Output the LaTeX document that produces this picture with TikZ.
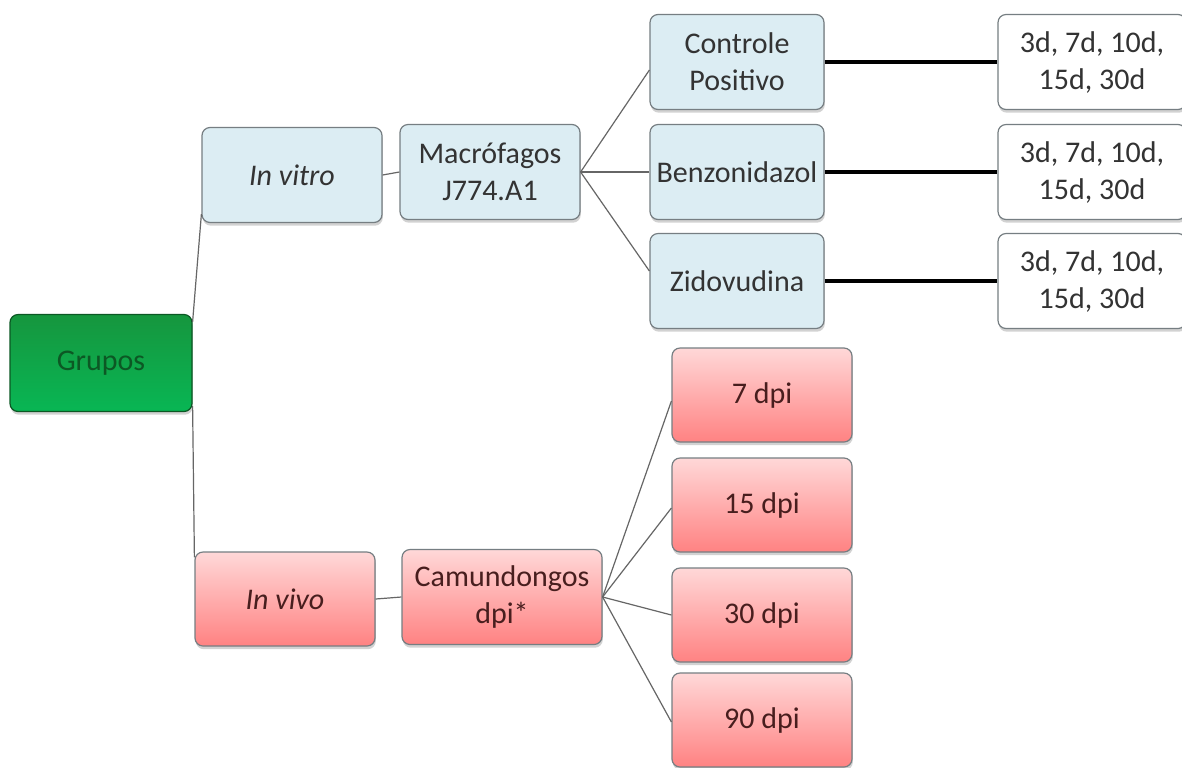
\documentclass[tikz,border=0pt]{standalone}
\usepackage{fontspec}
\setmainfont{Carlito}
\usetikzlibrary{shadows}

\definecolor{boxblue}{RGB}{220,237,243}
\definecolor{boxline}{RGB}{118,126,130}
\definecolor{greentop}{RGB}{22,150,62}
\definecolor{greenbot}{RGB}{8,182,84}
\definecolor{greentext}{RGB}{12,88,36}
\definecolor{redtop}{RGB}{255,216,216}
\definecolor{redbot}{RGB}{255,130,130}
\definecolor{redtext}{RGB}{72,30,30}

\newcommand{\boxh}{47.5pt}
\newcommand{\colw}{90pt}

\tikzset{
  box/.style={rounded corners=4pt, draw=boxline, line width=0.6pt, align=center,
    inner sep=0pt, minimum height=\boxh, minimum width=\colw,
    font=\fontsize{15}{18.5}\selectfont,
    drop shadow={shadow xshift=0.4pt, shadow yshift=-1.6pt, opacity=0.35}},
  bluebox/.style={box, fill=boxblue, text=black!80},
  redbox/.style={box, top color=redtop, bottom color=redbot, text=redtext},
  whitebox/.style={box, fill=white, text=black!80},
  greenbox/.style={box, top color=greentop, bottom color=greenbot, draw=greentext, text=greentext},
  link/.style={draw=black!60, line width=0.6pt},
  thicklink/.style={draw=black, line width=2pt}
}

\begin{document}
\begin{tikzpicture}[x=0.5pt, y=-0.5pt]

        \clip (0, 0) rectangle (1182, 767);
        \fill[white] (0, 0) rectangle (1182, 767);

        % root
        \node[greenbox, minimum width=91pt, minimum height=48.5pt] (grupos) at (101, 363) {Grupos};

        % in vitro branch
        \node[bluebox] (invitro) at (292, 175) {\itshape In vitro};
        \node[bluebox] (macro) at (490, 172) {Macrófagos\\J774.A1};

        \node[bluebox, minimum width=87pt] (controle) at (737, 62) {Controle\\Positivo};
        \node[bluebox, minimum width=87pt] (benz) at (737, 172) {Benzonidazol};
        \node[bluebox, minimum width=87pt] (zido) at (737, 281) {Zidovudina};

        \node[whitebox, minimum width=94pt] (tempo1) at (1092, 62) {3d, 7d, 10d,\\15d, 30d};
        \node[whitebox, minimum width=94pt] (tempo2) at (1092, 172) {3d, 7d, 10d,\\15d, 30d};
        \node[whitebox, minimum width=94pt] (tempo3) at (1092, 281) {3d, 7d, 10d,\\15d, 30d};

        % in vivo branch
        \node[redbox, minimum height=47pt] (invivo) at (285, 599) {\itshape In vivo};
        \node[redbox, minimum width=100pt] (camund) at (502, 597) {Camundongos\\dpi*};

        \node[redbox, minimum height=47pt] (dpi7) at (762, 395) {7 dpi};
        \node[redbox, minimum height=47pt] (dpi15) at (762, 505) {15 dpi};
        \node[redbox, minimum height=47pt] (dpi30) at (762, 615) {30 dpi};
        \node[redbox, minimum height=47pt] (dpi90) at (762, 720) {90 dpi};

        % connectors
        \draw[link] ([yshift=-4pt]grupos.north east) -- ([yshift=4.5pt]invitro.south west);
        \draw[link] ([yshift=3pt]grupos.south east) -- ([yshift=-3pt]invivo.north west);

        \draw[link] (invitro.east) -- (macro.west);
        \draw[link] (macro.east) -- ([yshift=-4pt]controle.west);
        \draw[link] (macro.east) -- (benz.west);
        \draw[link] (macro.east) -- ([yshift=5pt]zido.west);

        \draw[thicklink] (controle.east) -- (tempo1.west);
        \draw[thicklink] (benz.east) -- (tempo2.west);
        \draw[thicklink] (zido.east) -- (tempo3.west);

        \draw[link] (invivo.east) -- (camund.west);
        \draw[link] (camund.east) -- ([yshift=-3pt]dpi7.west);
        \draw[link] (camund.east) -- ([yshift=-1.5pt]dpi15.west);
        \draw[link] (camund.east) -- (dpi30.west);
        \draw[link] (camund.east) -- ([yshift=-1pt]dpi90.west);

\end{tikzpicture}
\end{document}
